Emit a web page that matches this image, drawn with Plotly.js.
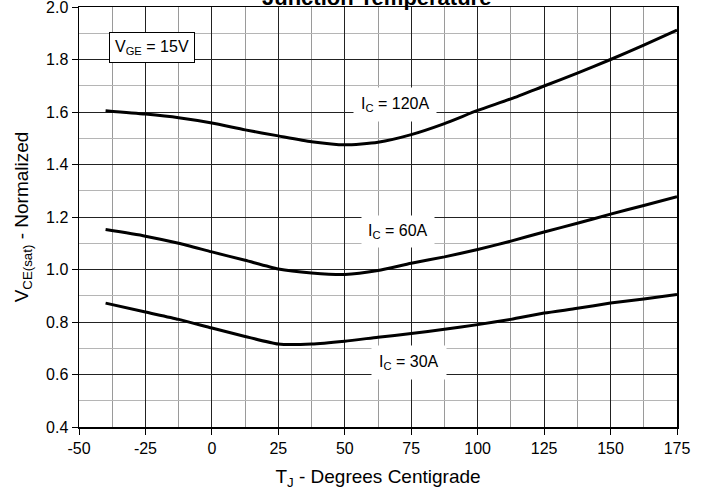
<!DOCTYPE html>
<html>
<head>
<meta charset="utf-8">
<script src="https://cdn.plot.ly/plotly-3.0.1.min.js"></script>
<style>html,body{margin:0;padding:0;background:#fff;}#chart{width:708px;height:498px;}</style>
</head>
<body>
<div id="chart"></div>
<script>
const tempC = [-40, -25, -12.5, 0, 12.5, 25, 37.5, 50, 62.5, 75, 87.5, 100, 112.5, 125, 137.5, 150, 162.5, 175];
const vce120A = [1.605, 1.592, 1.578, 1.558, 1.532, 1.509, 1.487, 1.475, 1.485, 1.514, 1.556, 1.606, 1.650, 1.699, 1.748, 1.800, 1.855, 1.912];
const vce60A  = [1.152, 1.127, 1.100, 1.067, 1.035, 1.002, 0.987, 0.981, 0.996, 1.024, 1.048, 1.076, 1.108, 1.143, 1.176, 1.211, 1.244, 1.277];
const vce30A  = [0.872, 0.838, 0.810, 0.777, 0.745, 0.716, 0.716, 0.727, 0.742, 0.756, 0.772, 0.790, 0.810, 0.834, 0.852, 0.872, 0.888, 0.905];
const xTicks = [-50, -25, 0, 25, 50, 75, 100, 125, 150, 175];
const yTicks = [0.4, 0.6, 0.8, 1.0, 1.2, 1.4, 1.6, 1.8, 2.0];

const font = "Liberation Sans, Arial, sans-serif";
const lineStyle = {color: '#000', width: 3, shape: 'spline', smoothing: 0.6};
const traces = [
  {x: tempC, y: vce120A, mode: 'lines', line: lineStyle, name: 'IC = 120A'},
  {x: tempC, y: vce60A, mode: 'lines', line: lineStyle, name: 'IC = 60A'},
  {x: tempC, y: vce30A, mode: 'lines', line: lineStyle, name: 'IC = 30A'}
];

const layout = {
  width: 708, height: 498,
  margin: {l: 79, r: 31, t: 7, b: 71},
  paper_bgcolor: '#fff', plot_bgcolor: '#fff',
  showlegend: false,
  font: {family: font, size: 15, color: '#000'},
  xaxis: {
    range: [-50, 175], tickvals: xTicks, ticktext: xTicks.map(String),
    showgrid: true, gridcolor: '#222', gridwidth: 1,
    minor: {dtick: 12.5, tick0: -50, showgrid: true, gridcolor: '#9a9a9a', gridwidth: 1},
    showline: true, linecolor: '#000', linewidth: 1.5, mirror: true,
    ticks: 'outside', ticklen: 6, tickcolor: '#000', zeroline: false,
    ticklabeloverflow: 'allow',
    tickfont: {family: font, size: 16},
    title: {text: 'T<sub>J</sub> - Degrees Centigrade', font: {family: font, size: 19}, standoff: 14}
  },
  yaxis: {
    range: [0.4, 2.0], tickvals: yTicks, ticktext: yTicks.map(v => v.toFixed(1)),
    showgrid: true, gridcolor: '#222', gridwidth: 1,
    minor: {dtick: 0.1, tick0: 0.4, showgrid: true, gridcolor: '#b5b5b5', gridwidth: 1},
    showline: true, linecolor: '#000', linewidth: 1.5, mirror: true,
    ticks: 'outside', ticklen: 6, tickcolor: '#000', zeroline: false,
    ticklabeloverflow: 'allow',
    tickfont: {family: font, size: 16},
    title: {text: 'V<sub>CE(sat)</sub> - Normalized', font: {family: font, size: 19}, standoff: 12}
  },
  annotations: [
    {xref: 'paper', yref: 'paper', x: 0.5, y: 1, yanchor: 'bottom', yshift: -5, xshift: -2,
     text: '<b>Junction Temperature</b>', showarrow: false, font: {family: font, size: 22}},
    {xref: 'x', yref: 'y', x: -22.5, y: 1.845, text: 'V<sub>GE</sub> = 15V', showarrow: false,
     bgcolor: '#fff', bordercolor: '#000', borderwidth: 1, borderpad: 5, font: {family: font, size: 16}},
    {xref: 'x', yref: 'y', x: 69, y: 1.627, text: 'I<sub>C</sub> = 120A', showarrow: false,
     bgcolor: '#fff', borderpad: 7, font: {family: font, size: 16}},
    {xref: 'x', yref: 'y', x: 70, y: 1.145, text: 'I<sub>C</sub> = 60A', showarrow: false,
     bgcolor: '#fff', borderpad: 6, font: {family: font, size: 16}},
    {xref: 'x', yref: 'y', x: 74, y: 0.644, text: 'I<sub>C</sub> = 30A', showarrow: false,
     bgcolor: '#fff', borderpad: 7, font: {family: font, size: 16}}
  ]
};

Plotly.newPlot('chart', traces, layout, {staticPlot: true, displayModeBar: false});
</script>
</body>
</html>
